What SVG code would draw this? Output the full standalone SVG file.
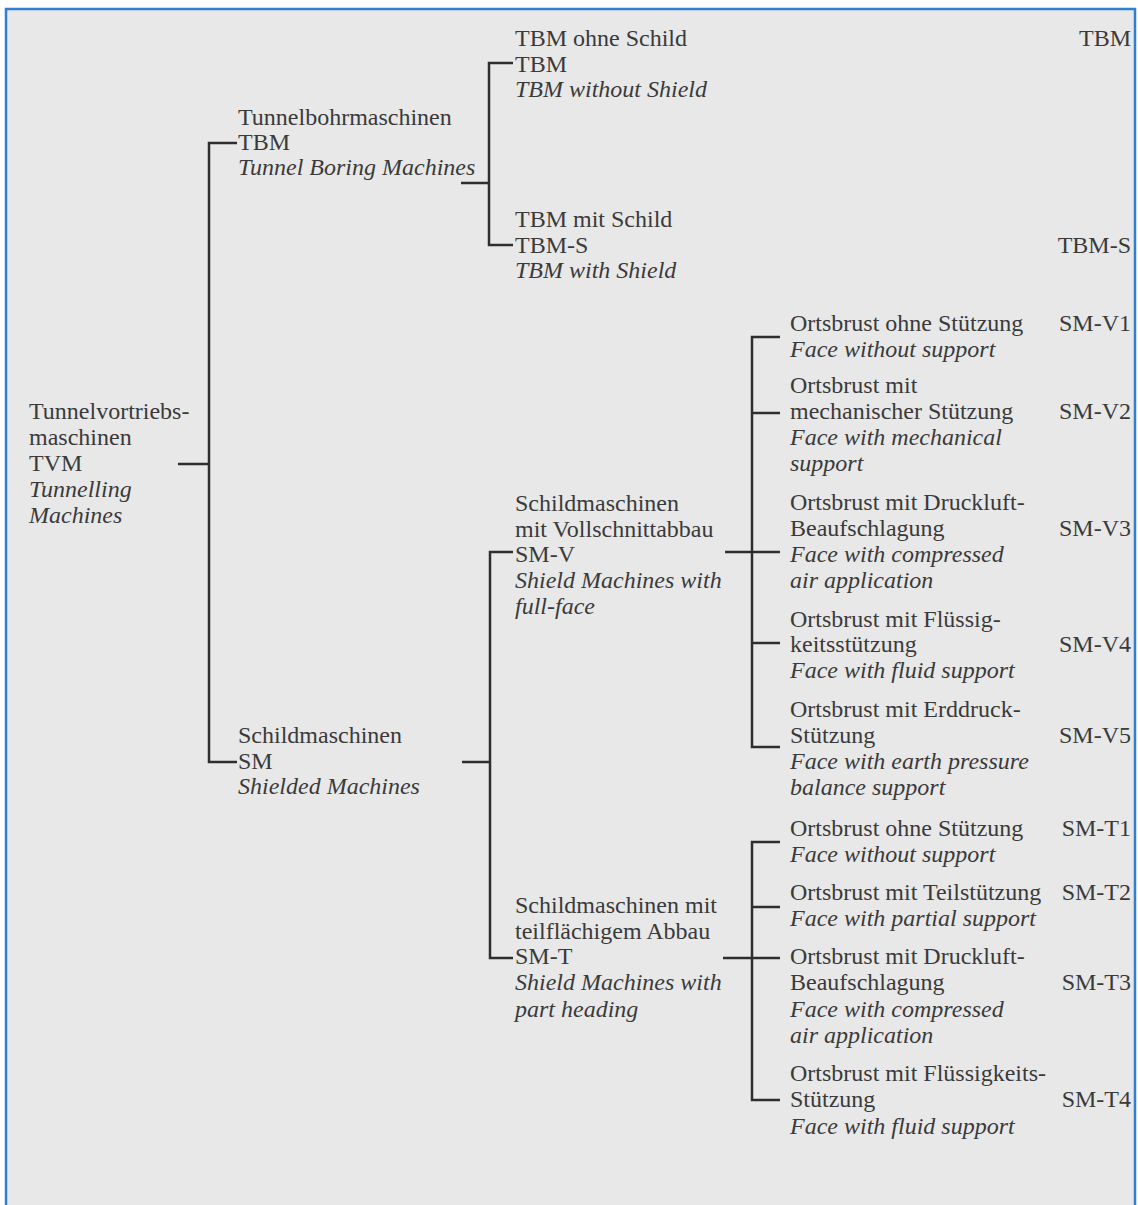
<svg xmlns="http://www.w3.org/2000/svg" width="1138" height="1205" viewBox="0 0 1138 1205">
<style>
text{font-family:"Liberation Serif","Times New Roman",serif;font-size:24px;fill:#3a3a3a}
.i{font-style:italic}
.r{text-anchor:end}
.c{fill:none;stroke:#2e2e2e;stroke-width:2.5}
</style>
<rect x="0" y="0" width="1138" height="1205" fill="#ffffff"/>
<rect x="6" y="9" width="1129" height="1196" fill="#e8e8e8"/>
<path d="M6,1205 V9 H1135 V1205" fill="none" stroke="#2f80d0" stroke-width="2.5"/>
<g id="connectors" class="c">
<path class="c" d="M178,464 H209 M237,143 H209 V762 H237"/>
<path class="c" d="M461,183 H489 M513,63 H489 V245 H513"/>
<path class="c" d="M462,762 H490 M513,552 H490 V958 H513"/>
<path class="c" d="M725,552 H780 M780,337 H752 V747 H780 M752,413 H780 M752,643 H780"/>
<path class="c" d="M723,958 H780 M780,842 H752 V1100 H780 M752,907 H780"/>
</g>
<g id="tvm">
<text x="29" y="419">Tunnelvortriebs-</text>
<text x="29" y="445">maschinen</text>
<text x="29" y="471">TVM</text>
<text class="i" x="29" y="497">Tunnelling</text>
<text class="i" x="29" y="523">Machines</text>
</g>
<g id="tbm">
<text x="238" y="125">Tunnelbohrmaschinen</text>
<text x="238" y="150">TBM</text>
<text class="i" x="238" y="175">Tunnel Boring Machines</text>
</g>
<g id="sm">
<text x="238" y="743">Schildmaschinen</text>
<text x="238" y="769">SM</text>
<text class="i" x="238" y="794">Shielded Machines</text>
</g>
<g id="tbm-o">
<text x="515" y="46">TBM ohne Schild</text>
<text x="515" y="72">TBM</text>
<text class="i" x="515" y="97">TBM without Shield</text>
<text class="r" x="1131" y="46">TBM</text>
</g>
<g id="tbm-s">
<text x="515" y="227">TBM mit Schild</text>
<text x="515" y="253">TBM-S</text>
<text class="i" x="515" y="278">TBM with Shield</text>
<text class="r" x="1131" y="253">TBM-S</text>
</g>
<g id="sm-v">
<text x="515" y="511">Schildmaschinen</text>
<text x="515" y="537">mit Vollschnittabbau</text>
<text x="515" y="562">SM-V</text>
<text class="i" x="515" y="588">Shield Machines with</text>
<text class="i" x="515" y="614">full-face</text>
</g>
<g id="sm-t">
<text x="515" y="913">Schildmaschinen mit</text>
<text x="515" y="939">teilflächigem Abbau</text>
<text x="515" y="964">SM-T</text>
<text class="i" x="515" y="990">Shield Machines with</text>
<text class="i" x="515" y="1017">part heading</text>
</g>
<g id="sm-v1">
<text x="790" y="331">Ortsbrust ohne Stützung</text>
<text class="i" x="790" y="357">Face without support</text>
<text class="r" x="1131" y="331">SM-V1</text>
</g>
<g id="sm-v2">
<text x="790" y="393">Ortsbrust mit</text>
<text x="790" y="419">mechanischer Stützung</text>
<text class="i" x="790" y="445">Face with mechanical</text>
<text class="i" x="790" y="471">support</text>
<text class="r" x="1131" y="419">SM-V2</text>
</g>
<g id="sm-v3">
<text x="790" y="510">Ortsbrust mit Druckluft-</text>
<text x="790" y="536">Beaufschlagung</text>
<text class="i" x="790" y="562">Face with compressed</text>
<text class="i" x="790" y="588">air application</text>
<text class="r" x="1131" y="536">SM-V3</text>
</g>
<g id="sm-v4">
<text x="790" y="627">Ortsbrust mit Flüssig-</text>
<text x="790" y="652">keitsstützung</text>
<text class="i" x="790" y="678">Face with fluid support</text>
<text class="r" x="1131" y="652">SM-V4</text>
</g>
<g id="sm-v5">
<text x="790" y="717">Ortsbrust mit Erddruck-</text>
<text x="790" y="743">Stützung</text>
<text class="i" x="790" y="769">Face with earth pressure</text>
<text class="i" x="790" y="795">balance support</text>
<text class="r" x="1131" y="743">SM-V5</text>
</g>
<g id="sm-t1">
<text x="790" y="836">Ortsbrust ohne Stützung</text>
<text class="i" x="790" y="862">Face without support</text>
<text class="r" x="1131" y="836">SM-T1</text>
</g>
<g id="sm-t2">
<text x="790" y="900">Ortsbrust mit Teilstützung</text>
<text class="i" x="790" y="926">Face with partial support</text>
<text class="r" x="1131" y="900">SM-T2</text>
</g>
<g id="sm-t3">
<text x="790" y="964">Ortsbrust mit Druckluft-</text>
<text x="790" y="990">Beaufschlagung</text>
<text class="i" x="790" y="1017">Face with compressed</text>
<text class="i" x="790" y="1043">air application</text>
<text class="r" x="1131" y="990">SM-T3</text>
</g>
<g id="sm-t4">
<text x="790" y="1081">Ortsbrust mit Flüssigkeits-</text>
<text x="790" y="1107">Stützung</text>
<text class="i" x="790" y="1134">Face with fluid support</text>
<text class="r" x="1131" y="1107">SM-T4</text>
</g>
</svg>
